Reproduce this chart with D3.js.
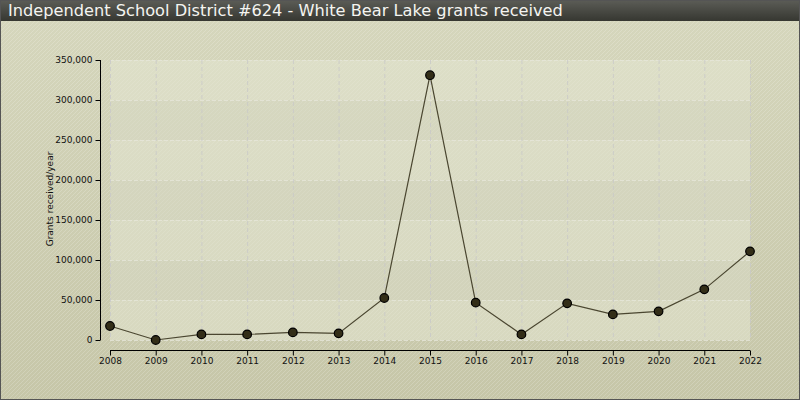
<!DOCTYPE html>
<html><head><meta charset="utf-8">
<script src="https://cdn.jsdelivr.net/npm/d3@7"></script>
<style>body{margin:0;padding:0;overflow:hidden;background:#fff}</style>
</head><body>
<svg id="c" width="800" height="400"></svg>
<script>
const title = "Independent School District #624 - White Bear Lake grants received";
const yLabel = "Grants received/year";
const years = [2008,2009,2010,2011,2012,2013,2014,2015,2016,2017,2018,2019,2020,2021,2022];
const grants = [17500,0,7000,7000,9500,8300,52500,331000,46700,7000,45800,32000,35800,63300,110800];
const yTicks = [0,50000,100000,150000,200000,250000,300000,350000];

const svg = d3.select("#c");
const W = 800, H = 400;
const defs = svg.append("defs");
const bg = defs.append("linearGradient").attr("id","bg").attr("x1",0).attr("y1",0).attr("x2",0).attr("y2",1);
bg.append("stop").attr("offset","0%").attr("stop-color","#d6d7bd");
bg.append("stop").attr("offset","100%").attr("stop-color","#c6c6a8");
const tg = defs.append("linearGradient").attr("id","tg").attr("x1",0).attr("y1",0).attr("x2",0).attr("y2",1);
tg.append("stop").attr("offset","0%").attr("stop-color","#5c5d57");
tg.append("stop").attr("offset","100%").attr("stop-color","#363731");
const pat = defs.append("pattern").attr("id","stripes").attr("patternUnits","userSpaceOnUse")
  .attr("width",4).attr("height",4);
pat.append("path").attr("d","M-1,1 l2,-2 M0,4 l4,-4 M3,5 l2,-2")
  .attr("stroke","#ffffff").attr("stroke-opacity",0.18).attr("stroke-width",1);

svg.append("rect").attr("width",W).attr("height",H).attr("fill","url(#bg)");
svg.append("rect").attr("width",W).attr("height",H).attr("fill","url(#stripes)");

const x = d3.scalePoint().domain(years).range([110,750]);
const y = d3.scaleLinear().domain([0,350000]).range([340,60]);

// bands
const g = svg.append("g");
for (let i=0;i<yTicks.length-1;i++){
  g.append("rect").attr("x",110).attr("width",640)
   .attr("y",y(yTicks[i+1])).attr("height",y(yTicks[i])-y(yTicks[i+1]))
   .attr("fill", i%2===0 ? "#e4e6d2" : "#d9dac6").attr("fill-opacity",0.55);
}
// horizontal grid
g.selectAll("line.h").data(yTicks).enter().append("line")
  .attr("x1",110).attr("x2",750).attr("y1",d=>y(d)+0.5).attr("y2",d=>y(d)+0.5)
  .attr("stroke","#e6e6da").attr("stroke-opacity",0.8).attr("stroke-width",1).attr("stroke-dasharray","4,2");
// vertical grid
g.selectAll("line.v").data(years).enter().append("line")
  .attr("x1",d=>x(d)+0.5).attr("x2",d=>x(d)+0.5).attr("y1",60).attr("y2",340)
  .attr("stroke","#c8c8c8").attr("stroke-opacity",0.8).attr("stroke-width",1).attr("stroke-dasharray","4,3");

// axes
const yAxis = svg.append("g").attr("transform","translate(100.5,0)")
  .call(d3.axisLeft(y).tickValues(yTicks).tickSize(5).tickPadding(3).tickFormat(d3.format(",")));
const xAxis = svg.append("g").attr("transform","translate(0,350.5)")
  .call(d3.axisBottom(x).tickSize(5).tickPadding(2).tickSizeOuter(0));
[yAxis,xAxis].forEach(a=>{
  a.select(".domain").attr("stroke","#000");
  a.selectAll(".tick line").attr("stroke","#000");
  a.selectAll("text").attr("fill","#111").attr("font-family","DejaVu Sans, Verdana, sans-serif").attr("font-size",9);
});
yAxis.select(".domain").attr("d","M0,"+y(350000)+"V"+y(0));
xAxis.select(".domain").attr("d","M110,0H750");

svg.append("text").attr("transform","translate(53,199) rotate(-90)")
  .attr("text-anchor","middle").attr("font-family","DejaVu Sans, Verdana, sans-serif")
  .attr("font-size",9).attr("fill","#111").text(yLabel);

// line
const line = d3.line().x((d,i)=>x(years[i])).y(d=>y(d));
svg.append("path").datum(grants).attr("d",line).attr("fill","none")
  .attr("stroke","#4a4630").attr("stroke-width",1.2);
svg.selectAll("circle.p").data(grants).enter().append("circle")
  .attr("cx",(d,i)=>x(years[i])).attr("cy",d=>y(d)).attr("r",4.3)
  .attr("fill","#332e18").attr("stroke","#000").attr("stroke-width",1.2);

// title bar
svg.append("rect").attr("x",0).attr("y",0).attr("width",W).attr("height",21).attr("fill","url(#tg)");
svg.append("text").attr("x",8).attr("y",16).attr("fill","#f4f4f0")
  .attr("font-family","DejaVu Sans, Verdana, sans-serif").attr("font-size",16.2).text(title);

// frame
svg.append("rect").attr("x",0.5).attr("y",0.5).attr("width",W-1).attr("height",H-1)
  .attr("fill","none").attr("stroke","#555").attr("stroke-width",1);
</script>
</body></html>
